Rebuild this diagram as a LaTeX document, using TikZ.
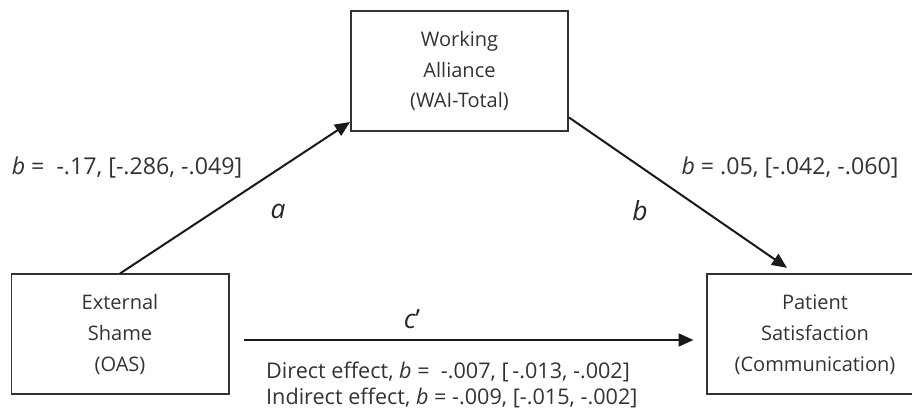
\documentclass[tikz,border=0pt]{standalone}
\usepackage{fontspec}
\setmainfont{Open Sans}
\usetikzlibrary{arrows.meta}
\tikzset{
  varbox/.style={draw=black!80, line width=0.04cm, minimum width=4.34cm, minimum height=2.40cm,
    align=center, text=black!80, inner sep=0pt, font={\fontsize{11.4}{17.6}\selectfont}},
  pathline/.style={line width=0.04cm, draw=black!90, -{Triangle[length=0.30cm,width=0.26cm]}},
  coef/.style={text=black!80, font={\fontsize{12.3}{14.8}\selectfont}},
  pathlabel/.style={text=black!85, font={\fontsize{15}{18}\selectfont\itshape}},
}
\begin{document}
\begin{tikzpicture}
                \useasboundingbox (0.000000,0.000000) rectangle (18.240000,8.240000);
                
                % Boxes of the three variables
                \node [varbox] (wai) at (9.190000,6.820000) {Working\\Alliance\\(WAI-Total)};
                \node [varbox] (oas) at (2.400000,1.550000) {External\\Shame\\(OAS)};
                \node [varbox] (sat) at (16.300000,1.550000) {Patient\\Satisfaction\\(Communication)};
                
                % Drawing path a
                \draw [pathline] (oas.north) -- (wai.205);%
                
                % Drawing path b
                \draw [pathline, shorten >=0.20cm] (wai.337) -- (sat.108);%
                
                % Drawing path c'
                \draw [pathline, shorten >=0.24cm] ([xshift=0.28cm,yshift=-0.11cm]oas.east) -- ([yshift=-0.11cm]sat.west);%
                
                % Marking path labels
                \node [pathlabel] (la) at (5.560000,4.020000) {a};
                \node [pathlabel] (lb) at (12.800000,4.020000) {b};
                \node [pathlabel] (lc) at (8.240000,1.860000) {c\upshape'};
                
                % Marking coefficients
                \node [coef, font={\fontsize{13.2}{16}\selectfont}] (ca) at (2.540000,4.880000) {\textit{b} =\ \ -.17, [-.286,\ -.049]};
                \node [coef, font={\fontsize{13.2}{16}\selectfont}] (cb) at (15.800000,4.880000) {\textit{b} = .05, [-.042,\ -.060]};
                \node [coef, align=left, anchor=west] (cc) at (5.200000,0.540000)
                  {Direct effect, \textit{b} =\ \ -.007, [\,-.013, -.002]\\Indirect effect, \textit{b} = -.009, [-.015, -.002]};
\end{tikzpicture}
\end{document}
